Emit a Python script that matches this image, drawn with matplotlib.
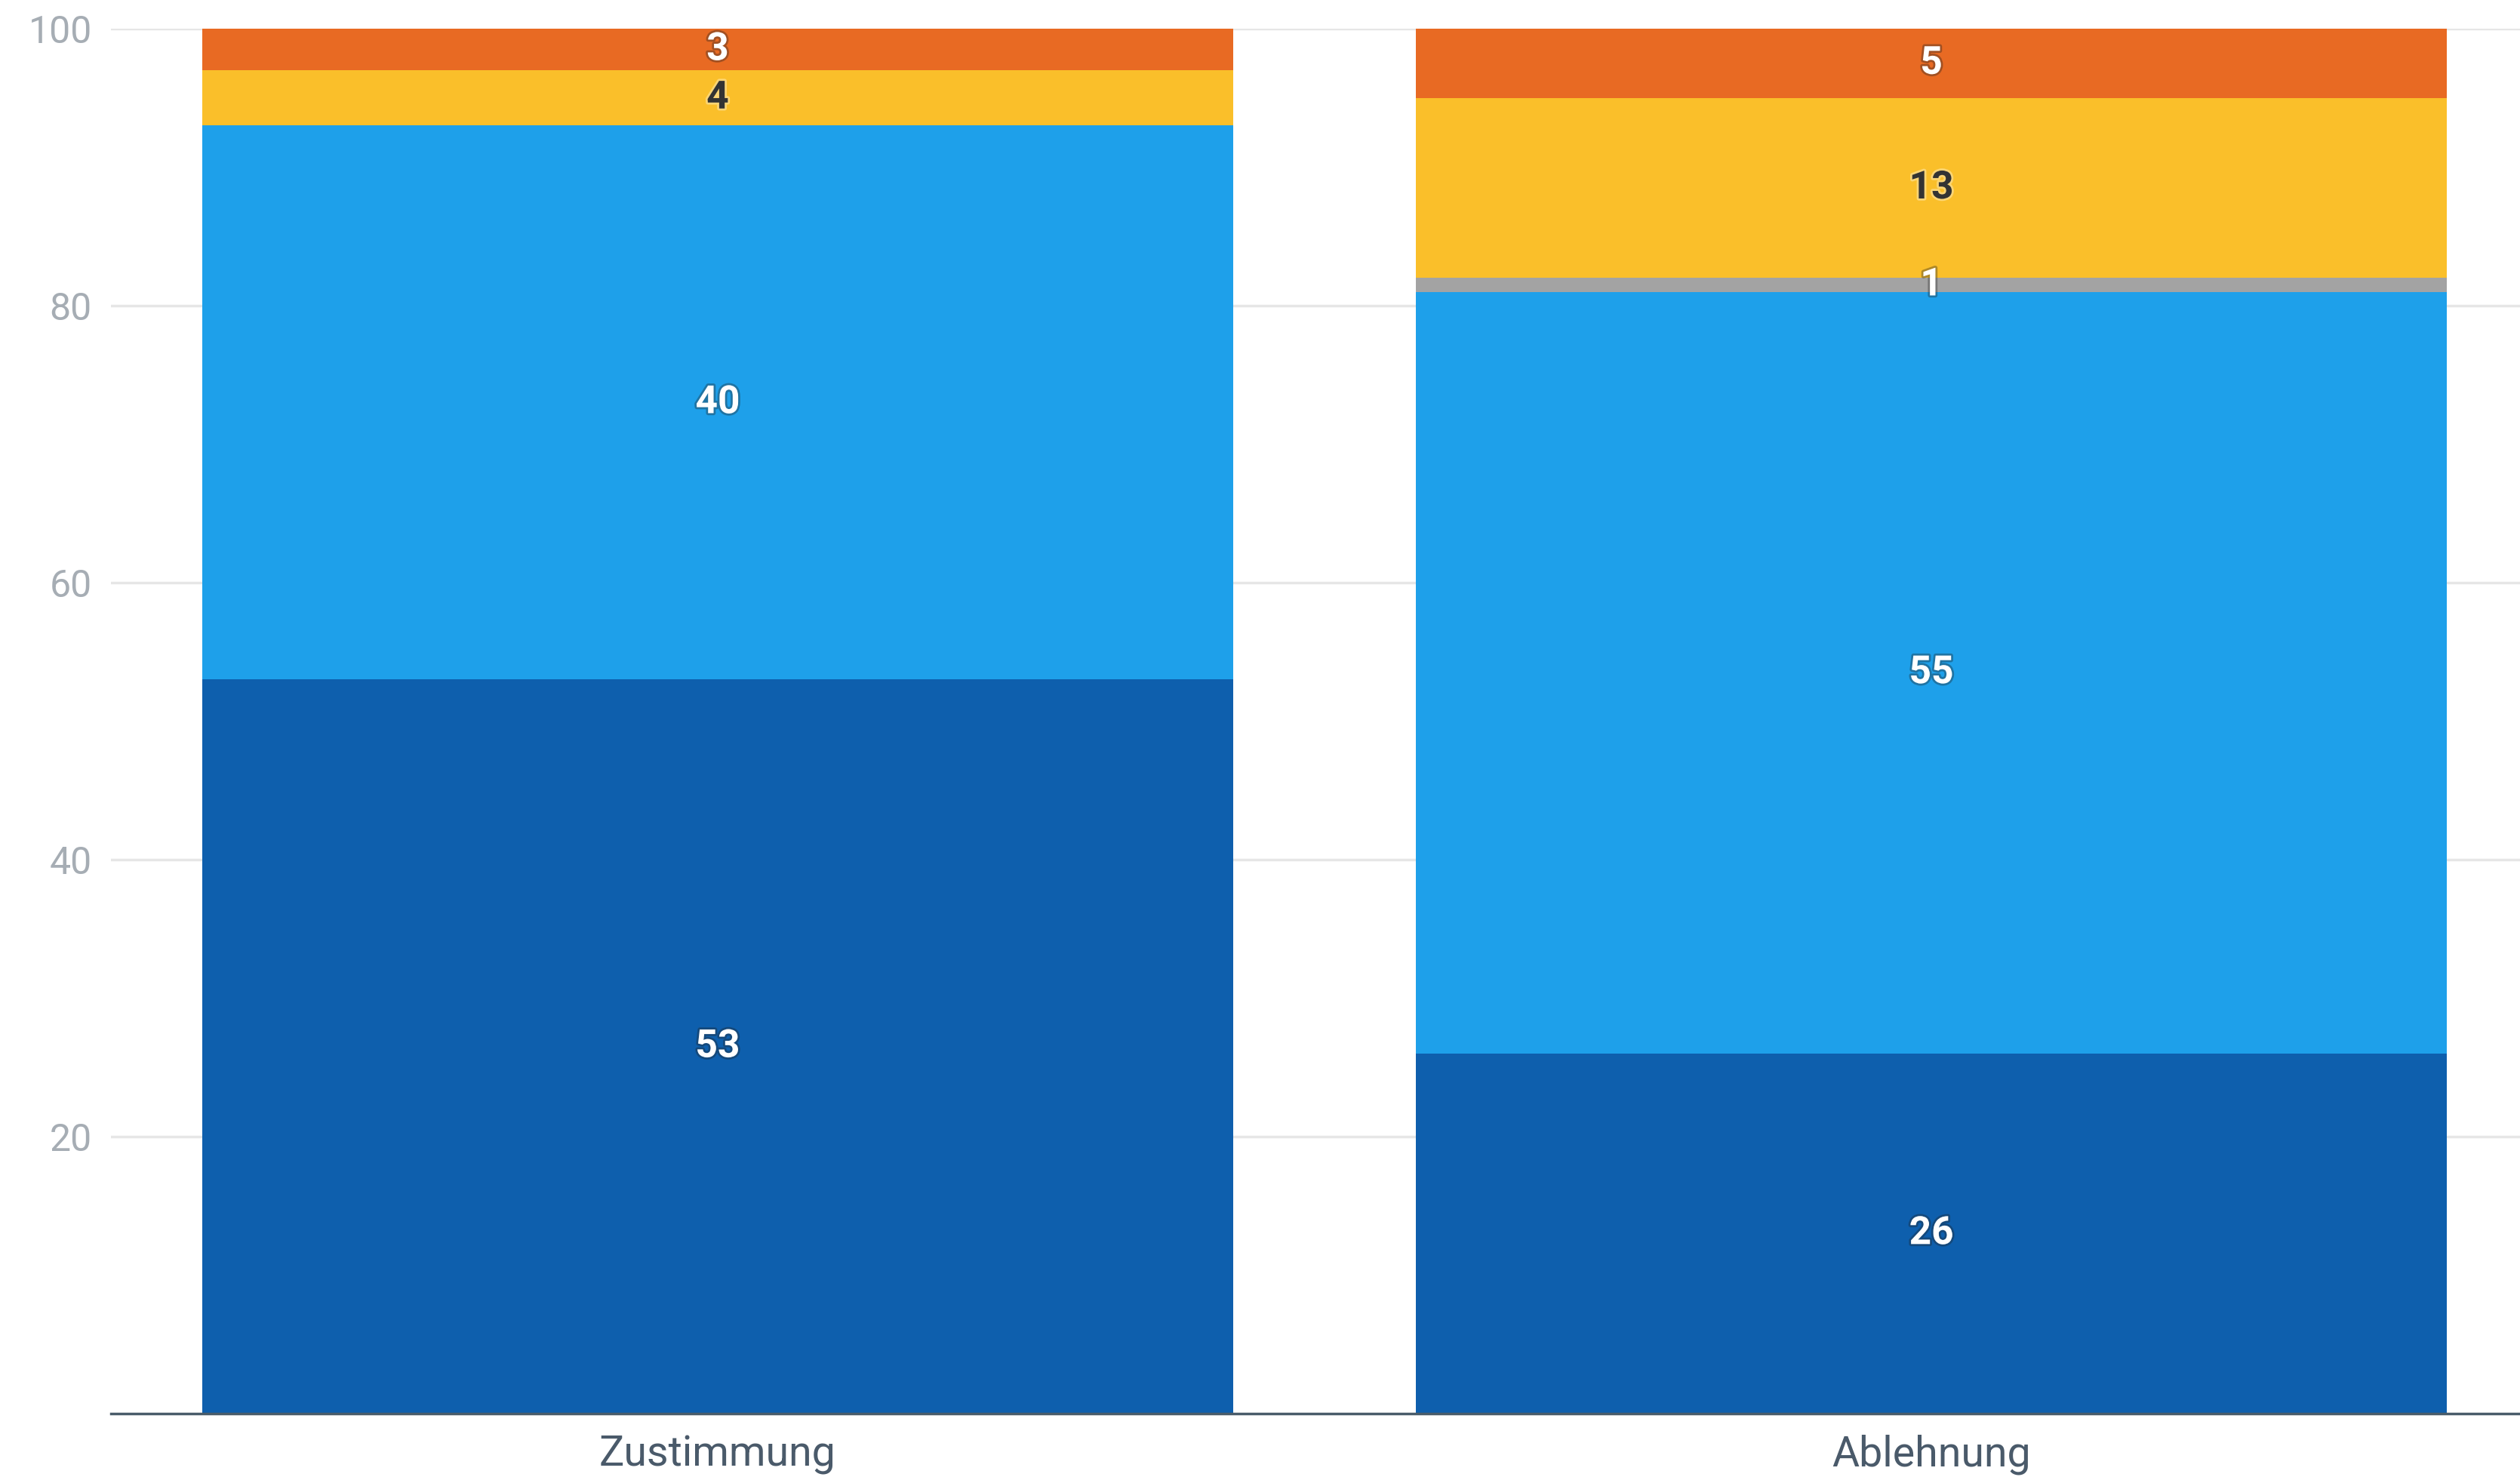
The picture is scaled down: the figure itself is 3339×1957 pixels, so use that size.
import numpy as np
import matplotlib.pyplot as plt
import matplotlib.patheffects as pe

plt.rcParams["font.family"] = ["Roboto", "DejaVu Sans"]

categories = ["Zustimmung", "Ablehnung"]
dark_blue = [53, 26]
light_blue = [40, 55]
grey = [0, 1]
yellow = [4, 13]
orange = [3, 5]

series = [dark_blue, light_blue, grey, yellow, orange]
colors = ["#0E5FAD", "#1EA0EA", "#A3A3A3", "#FABF2A", "#E86A23"]
text_colors = ["white", "white", "white", "#333333", "white"]

fig = plt.figure(figsize=(33.39, 19.57), dpi=100)
ax = fig.add_axes([0.044, 0.043, 0.956, 0.9376])

x = np.arange(len(categories))
bottom = np.zeros(len(categories))
for vals, col, tcol in zip(series, colors, text_colors):
    vals = np.array(vals, dtype=float)
    ax.bar(x, vals, bottom=bottom, width=0.849, color=col, zorder=2)
    for xi, v, b in zip(x, vals, bottom):
        if v > 0:
            glow = "white" if tcol != "white" else "#222222"
            ax.text(xi, b + v / 2, f"{int(v)}", ha="center", va="center",
                    fontsize=37, fontweight="bold", color=tcol, zorder=3,
                    path_effects=[pe.withStroke(linewidth=4, foreground=glow, alpha=0.35)])
    bottom += vals

ax.set_xlim(-0.5, 1.485)
ax.set_ylim(0, 100)
ax.set_yticks([20, 40, 60, 80, 100])
ax.set_xticks(x)
ax.set_xticklabels(categories)
ax.tick_params(axis="y", length=0, pad=18, labelsize=36, labelcolor="#A6ADB4")
ax.tick_params(axis="x", length=0, pad=20, labelsize=40, labelcolor="#4A5A6A")
ax.grid(axis="y", color="#E6E6E6", linewidth=2.5, zorder=0)
ax.set_axisbelow(True)
for s in ["top", "right", "left"]:
    ax.spines[s].set_visible(False)
ax.spines["bottom"].set_color("#4A5C6A")
ax.spines["bottom"].set_linewidth(2.5)
ax.spines["bottom"].set_zorder(4)

fig.savefig("out.png", dpi=100)
